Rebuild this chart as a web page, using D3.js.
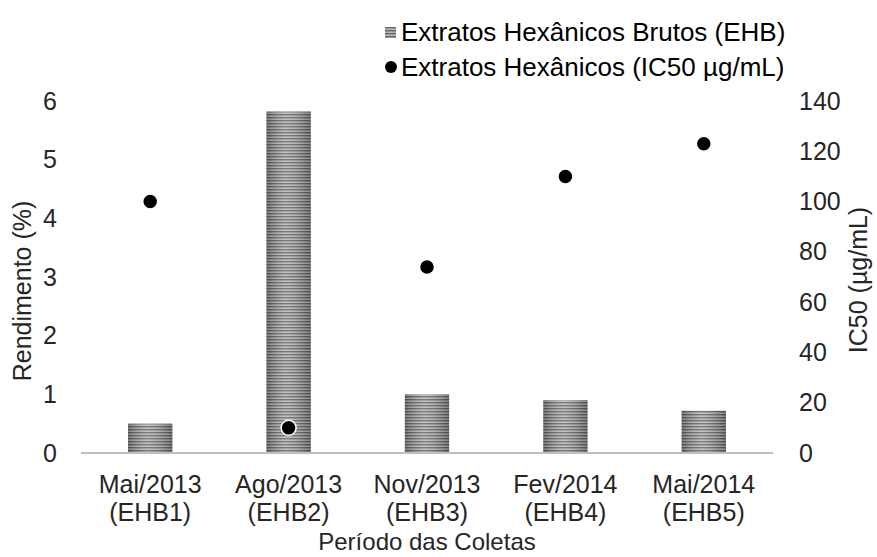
<!DOCTYPE html>
<html>
<head>
<meta charset="utf-8">
<script src="https://cdn.jsdelivr.net/npm/d3@7"></script>
<style>
  body { margin: 0; background: #fff; }
  svg { font-family: "Liberation Sans", Arial, sans-serif; }
</style>
</head>
<body>
<svg width="877" height="557"></svg>
<script>
// data
const periods = ["Mai/2013", "Ago/2013", "Nov/2013", "Fev/2014", "Mai/2014"];
const codes = ["(EHB1)", "(EHB2)", "(EHB3)", "(EHB4)", "(EHB5)"];
const rendimento = [0.5, 5.82, 1.0, 0.9, 0.72];
const ic50 = [100, 10, 74, 110, 123];
const leftTicks = [0, 1, 2, 3, 4, 5, 6];
const rightTicks = [0, 20, 40, 60, 80, 100, 120, 140];

const margin = {top: 101, right: 104, bottom: 104, left: 81};
const width = 877, height = 557;
const fs = 25;

var svg = d3.select("svg");

// bar pattern: grey horizontal stripes with darker edges
var defs = svg.append("defs");
var pat = defs.append("pattern")
    .attr("id", "stripes")
    .attr("patternUnits", "userSpaceOnUse")
    .attr("width", 4).attr("height", 3);
pat.append("rect").attr("width", 4).attr("height", 3).attr("fill", "#b8b8b8");
pat.append("rect").attr("width", 4).attr("height", 1.4).attr("fill", "#666");

var grad = defs.append("linearGradient").attr("id", "shade")
    .attr("x1", 0).attr("x2", 1).attr("y1", 0).attr("y2", 0);
grad.append("stop").attr("offset", "0%").attr("stop-color", "#000").attr("stop-opacity", 0.3);
grad.append("stop").attr("offset", "45%").attr("stop-color", "#fff").attr("stop-opacity", 0.15);
grad.append("stop").attr("offset", "100%").attr("stop-color", "#000").attr("stop-opacity", 0.3);

var x = d3.scaleBand()
    .domain(periods)
    .range([margin.left, width - margin.right])
    .paddingInner(0.68).paddingOuter(0.34);

var yL = d3.scaleLinear().domain([0, 6]).range([height - margin.bottom, margin.top]);
var yR = d3.scaleLinear().domain([0, 140]).range([height - margin.bottom, margin.top]);

// bars
var bars = svg.append("g").selectAll("g")
    .data(periods)
    .enter().append("g");
bars.append("rect")
    .attr("x", d => x(d))
    .attr("y", (d, i) => yL(rendimento[i]))
    .attr("width", x.bandwidth())
    .attr("height", (d, i) => yL(0) - yL(rendimento[i]))
    .attr("fill", "url(#stripes)");
bars.append("rect")
    .attr("x", d => x(d))
    .attr("y", (d, i) => yL(rendimento[i]))
    .attr("width", x.bandwidth())
    .attr("height", (d, i) => yL(0) - yL(rendimento[i]))
    .attr("fill", "url(#shade)");

// baseline
svg.append("line")
    .attr("x1", margin.left).attr("x2", width - margin.right)
    .attr("y1", yL(0)).attr("y2", yL(0))
    .attr("stroke", "#bfbfbf").attr("stroke-width", 2);

// points
svg.append("g").selectAll("circle")
    .data(periods)
    .enter().append("circle")
    .attr("cx", d => x(d) + x.bandwidth() / 2)
    .attr("cy", (d, i) => yR(ic50[i]))
    .attr("r", 7.5)
    .attr("fill", "#000")
    .attr("stroke", "#fff")
    .attr("stroke-width", 1.5);

// left axis
var leftAxis = d3.axisLeft(yL).tickValues(leftTicks).tickFormat(d3.format("d"))
    .tickSize(0).tickPadding(0);
var gl = svg.append("g").attr("transform", "translate(57,0)").call(leftAxis);
gl.select(".domain").remove();
gl.selectAll("text").attr("font-size", fs).attr("fill", "#262626")
    .attr("font-family", "Liberation Sans, Arial, sans-serif");

// right axis
var rightAxis = d3.axisRight(yR).tickValues(rightTicks).tickFormat(d3.format("d"))
    .tickSize(0).tickPadding(0);
var gr = svg.append("g").attr("transform", "translate(799,0)").call(rightAxis);
gr.select(".domain").remove();
gr.selectAll("text").attr("font-size", fs).attr("fill", "#262626")
    .attr("font-family", "Liberation Sans, Arial, sans-serif");

// category labels
var lbl = svg.append("g").selectAll("text")
    .data(periods)
    .enter().append("text")
    .attr("x", d => x(d) + x.bandwidth() / 2)
    .attr("text-anchor", "middle")
    .attr("font-size", fs)
    .attr("fill", "#262626");
lbl.append("tspan").attr("x", d => x(d) + x.bandwidth() / 2).attr("y", 493).text(d => d);
lbl.append("tspan").attr("x", d => x(d) + x.bandwidth() / 2).attr("y", 521).text((d, i) => codes[i]);

// axis titles
svg.append("text")
    .attr("x", 427).attr("y", 550)
    .attr("text-anchor", "middle").attr("font-size", 24).attr("fill", "#262626")
    .text("Período das Coletas");
svg.append("text")
    .attr("transform", "translate(31,291) rotate(-90)")
    .attr("text-anchor", "middle").attr("font-size", fs).attr("fill", "#262626")
    .text("Rendimento (%)");
svg.append("text")
    .attr("transform", "translate(867,280) rotate(-90)")
    .attr("text-anchor", "middle").attr("font-size", fs).attr("fill", "#262626")
    .text("IC50 (µg/mL)");

// legend
var leg = svg.append("g");
leg.append("rect").attr("x", 385).attr("y", 27).attr("width", 11).attr("height", 11)
    .attr("fill", "url(#stripes)");
leg.append("text").attr("x", 401).attr("y", 41).attr("font-size", 26).attr("fill", "#000")
    .text("Extratos Hexânicos Brutos (EHB)");
leg.append("circle").attr("cx", 391).attr("cy", 67).attr("r", 6).attr("fill", "#000");
leg.append("text").attr("x", 401).attr("y", 76).attr("font-size", 26).attr("fill", "#000")
    .text("Extratos Hexânicos (IC50 µg/mL)");
</script>
</body>
</html>
